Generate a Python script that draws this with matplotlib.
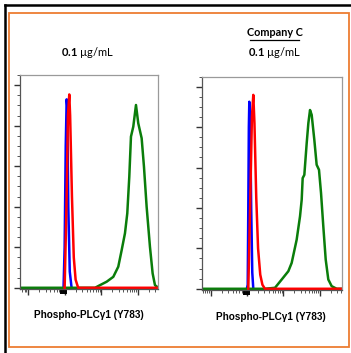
import numpy as np
import matplotlib
matplotlib.use('Agg')
import matplotlib.pyplot as plt
from matplotlib.patches import Rectangle
from matplotlib.ticker import LogLocator, MultipleLocator, NullFormatter
import matplotlib.transforms as mtrans

plt.rcParams['mathtext.fontset'] = 'custom'
plt.rcParams['mathtext.rm'] = 'Lato'
plt.rcParams['mathtext.bf'] = 'Lato:bold'

# 数据：荧光强度(log10)与相对细胞数(%)
# 左图
left_blue_x = [1.97, 2.00, 2.03, 2.056, 2.07, 2.10, 2.14, 2.19]
left_blue_y = [0, 20, 70, 93, 90, 40, 8, 0]
left_red_x = [2.00, 2.05, 2.09, 2.127, 2.15, 2.20, 2.25, 2.30, 2.37, 4.56]
left_red_y = [0, 40, 85, 95.4, 85, 45, 15, 4, 0, 0]
left_green_x = [0.78, 2.83, 2.966, 3.149, 3.33, 3.466, 3.559, 3.649, 3.712, 3.767, 3.813,
                3.876, 3.95, 4.012, 4.105, 4.168, 4.241, 4.332, 4.405, 4.469, 4.56]
left_green_y = [0, 0, 1.3, 3.0, 5.4, 10.4, 18.6, 26.9, 36.7, 54.8, 74.6,
                79.5, 90.2, 81.2, 73.8, 59.8, 40, 20.2, 7.1, 1.3, 0]
# 右图
right_blue_x = [1.99, 2.014, 2.03, 2.045, 2.058, 2.08, 2.11, 2.14, 2.168]
right_blue_y = [0, 2, 40, 80, 92.6, 85, 40, 8, 0]
right_red_x = [2.03, 2.08, 2.13, 2.168, 2.20, 2.25, 2.30, 2.36, 2.42, 2.49, 4.61]
right_red_y = [0, 40, 85, 96, 82, 45, 20, 7, 2, 0, 0]
right_green_x = [0.74, 2.492, 2.768, 2.953, 3.136, 3.228, 3.366, 3.459, 3.505, 3.532, 3.578,
                 3.643, 3.689, 3.735, 3.781, 3.854, 3.918, 3.983, 4.039, 4.102, 4.168,
                 4.24, 4.333, 4.472, 4.61]
right_green_y = [0, 0, 0.5, 4.6, 8.7, 12.8, 24.3, 35.9, 44.1, 54.8, 56.4,
                 72.1, 82, 88.5, 86.1, 73.7, 61.4, 58.9, 47.4, 30.9, 14.5,
                 4.6, 1.3, 0, 0]

conc_label = '0.1'
xlabel = 'Phospho-PLCγ1 (Y783)'

W, H = 351, 353
fig = plt.figure(figsize=(W / 100, H / 100), dpi=100)

# 外框：黑色(上、左)与橙色矩形
fig.add_artist(plt.Line2D([5 / W, 1], [1 - 4.5 / H] * 2, color='black', lw=1.8, transform=fig.transFigure))
fig.add_artist(plt.Line2D([5 / W] * 2, [0, 1 - 4.5 / H], color='black', lw=1.8, transform=fig.transFigure))
fig.add_artist(Rectangle((8.7 / W, 1 - 347 / H), (349 - 8.7) / W, (347 - 12.7) / H,
                         fill=False, edgecolor='#ED7D31', lw=1.3, transform=fig.transFigure))


def draw_panel(rect, xlim, blue, red, green):
    ax = fig.add_axes(rect)
    ax.plot(10 ** np.array(blue[0]), blue[1], color='#0000FF', lw=1.8)
    ax.plot(10 ** np.array(green[0]), green[1], color='#0A7D0A', lw=1.8)
    ax.plot(10 ** np.array(red[0]), red[1], color='#FF0000', lw=1.8)
    ax.set_xscale('log')
    ax.set_xlim(10 ** xlim[0], 10 ** xlim[1])
    ax.set_ylim(-0.6, 105)
    ax.xaxis.set_major_locator(LogLocator(base=10, numticks=50))
    ax.xaxis.set_minor_locator(LogLocator(base=10, subs=np.arange(2, 10), numticks=50))
    ax.xaxis.set_major_formatter(NullFormatter())
    ax.xaxis.set_minor_formatter(NullFormatter())
    ax.yaxis.set_major_locator(MultipleLocator(20))
    ax.yaxis.set_minor_locator(MultipleLocator(5))
    ax.set_yticklabels([])
    ax.tick_params(which='major', direction='out', length=4, width=1.0, color='#333333')
    ax.tick_params(which='minor', direction='out', length=2.5, width=0.7, color='#555555')
    ax.tick_params(which='both', top=False, right=False)
    for s in ['top', 'right']:
        ax.spines[s].set_color('#9A9A9A')
    for s in ['left', 'bottom']:
        ax.spines[s].set_color('#555555')
    for s in ax.spines.values():
        s.set_linewidth(0.9)
    # 横轴上的黑色刻度块
    tr = mtrans.blended_transform_factory(ax.transData, ax.transAxes)
    for lx in [1.9, 1.95, 2.0, 2.05]:
        ax.plot([10 ** lx] * 2, [-0.004, -0.022], color='black', lw=1.4,
                transform=tr, clip_on=False, solid_capstyle='butt')
    return ax


ax1 = draw_panel([20 / W, 1 - 289 / H, 138.3 / W, 214 / H], (0.78, 4.56),
                 (left_blue_x, left_blue_y), (left_red_x, left_red_y),
                 (left_green_x, left_green_y))
ax2 = draw_panel([201.7 / W, 1 - 290 / H, 140 / W, 213.3 / H], (0.743, 4.61),
                 (right_blue_x, right_blue_y), (right_red_x, right_red_y),
                 (right_green_x, right_green_y))

# 标题文字
tfont = ['Lato', 'DejaVu Sans']
for cx in [88, 275]:
    fig.text(cx / W, 1 - 52 / H, f'$\\mathbf{{{conc_label}}}$ µg/mL', ha='center', va='center',
             fontsize=8, family=tfont)
t = fig.text(274.5 / W, 1 - 32 / H, 'Company C', ha='center', va='center',
             fontsize=7.8, fontweight='bold', family=tfont)
fig.add_artist(plt.Line2D([250 / W, 299 / W], [1 - 40 / H] * 2, color='black', lw=0.9,
                          transform=fig.transFigure))

# 横轴标签
xfont = ['Liberation Sans', 'DejaVu Sans']
fig.text(89 / W, 1 - 315.5 / H, xlabel, ha='center', va='center', fontsize=7.2,
         fontweight='bold', family=xfont)
fig.text(271 / W, 1 - 317.5 / H, xlabel, ha='center', va='center', fontsize=7.2,
         fontweight='bold', family=xfont)

fig.savefig('out.png', dpi=100)
